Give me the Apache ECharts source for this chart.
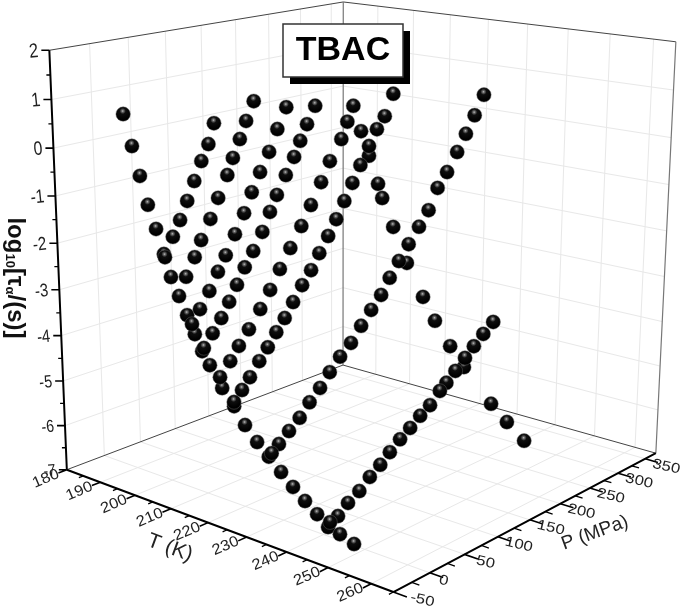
<!DOCTYPE html>
<html>
<head>
<meta charset="utf-8">
<title>TBAC</title>
<style>
  html, body { margin: 0; padding: 0; background: #fff; }
  #main { width: 685px; height: 608px; }
</style>
<script src="https://cdn.jsdelivr.net/npm/echarts@6/dist/echarts.min.js"></script>
</head>
<body>
<div id="main"></div>
<script>
// isobar at ambient pressure
var ambientP = 0.1;
var ambientT = [188.9,191.1,193.1,195.1,197.2,199.2,201.0,203.1,205.2,207.2,209.1,211.1,214.3,217.4,220.2,223.3,226.3,229.4,232.4,235.4,238.4,241.1,244.0,247.4];
var ambientLog = [0.66,0.03,-0.56,-1.13,-1.60,-2.09,-2.54,-2.90,-3.26,-3.62,-3.94,-4.19,-4.60,-4.91,-5.24,-5.52,-5.75,-5.99,-6.22,-6.43,-6.62,-6.81,-6.87,-6.97];

// isobar at high pressure
var highP = 201.5;
var highT = [214.2,216.3,218.7,219.8,222.7,226.3,230.5,233.6,237.5,241.0,247.8,251.7,255.9];
var highLog = [-0.02,-0.52,-1.09,-1.38,-1.96,-2.68,-3.34,-3.80,-4.27,-4.65,-5.29,-5.59,-5.89];

// isotherms
var iso1T = 199.5;
var iso1P = [69,61,51,41,31,21,11,0];
var iso1Log = [0.39,-0.02,-0.34,-0.72,-1.10,-1.46,-1.77,-2.15];
var iso2T = 203.1;
var iso2P = [106,95,86,76,68,55,44,31,22,10];
var iso2Log = [0.78,0.40,0.05,-0.31,-0.64,-1.07,-1.47,-1.86,-2.18,-2.54];
var iso3T = 206.5;
var iso3P = [134,121,109,96,84,73,60,47,36,24,11,0];
var iso3Log = [0.61,0.19,-0.25,-0.63,-1.01,-1.41,-1.80,-2.19,-2.49,-2.84,-3.16,-3.42];
var iso4T = 209.6;
var iso4P = [159,147,137,128,116,103,93,82,69,57,46,35,24,12,0];
var iso4Log = [0.60,0.25,-0.07,-0.38,-0.72,-1.09,-1.41,-1.79,-2.14,-2.43,-2.75,-3.06,-3.35,-3.61,-3.86];
var iso5T = 213.8;
var iso5P = [192,183,174,157,144,129,115,99,84,70,56,40,26,14,0];
var iso5Log = [0.55,0.24,-0.10,-0.51,-0.91,-1.34,-1.73,-2.13,-2.51,-2.89,-3.23,-3.58,-3.86,-4.12,-4.38];
var iso6T = 217.4;
var iso6P = [232,219,207,195,182,170,158,146,134,121,109,96,83,71,59,47,35,22,11,0];
var iso6Log = [0.73,0.29,0.05,-0.27,-0.63,-0.97,-1.31,-1.65,-1.96,-2.27,-2.58,-2.84,-3.14,-3.42,-3.66,-3.92,-4.15,-4.42,-4.63,-4.82];
var iso7T = 226.3;
var iso7P = [323,308,294,280,264,249,235,220,204,189,175,162,147,132,117,101,86,72,57,43,28,14,4];
var iso7Log = [0.54,0.14,-0.22,-0.57,-0.95,-1.24,-1.67,-1.97,-2.28,-2.58,-2.88,-3.19,-3.44,-3.71,-4.00,-4.21,-4.46,-4.72,-4.94,-5.19,-5.38,-5.57,-5.70];
var iso8T = 241.6;
var iso8P = [244,228,213,199,184,170,160,145,130,115,100,85,71,56,41,25,11,0];
var iso8Log = [-3.87,-4.05,-4.24,-4.42,-4.62,-4.80,-4.92,-5.14,-5.28,-5.45,-5.60,-5.78,-5.96,-6.12,-6.32,-6.46,-6.64,-6.69];

// axis ticks
var tempTicks = [180,190,200,210,220,230,240,250,260];
var pressTicks = [-50,0,50,100,150,200,250,300,350];
var logTicks = [2,1,0,-1,-2,-3,-4,-5,-6,-7];

// box limits
var Tmin = 180, Tmax = 265, Pmin = -50, Pmax = 370, Lmin = -7, Lmax = 2;

// perspective camera of the 3D box (box fractions -> pixels)
var camX = [66.840,270.507,332.179,-20.486];
var camY = [469.733,37.979,-45.072,-422.507];
var camW = [1,-0.142402,0.163272,-0.060540];

function project(T, P, L) {
  var u = (T - Tmin) / (Tmax - Tmin);
  var v = (P - Pmin) / (Pmax - Pmin);
  var w = (L - Lmin) / (Lmax - Lmin);
  var q = camW[0] + camW[1] * u + camW[2] * v + camW[3] * w;
  return [
    (camX[0] + camX[1] * u + camX[2] * v + camX[3] * w) / q,
    (camY[0] + camY[1] * u + camY[2] * v + camY[3] * w) / q
  ];
}

// segments: list of [a, b] pixel pairs turned into one broken line
function brokenLine(segments) {
  var out = [];
  segments.forEach(function (s) {
    out.push(s[0], s[1], [NaN, NaN]);
  });
  return out;
}

function range(from, to, step) {
  var out = [];
  for (var i = from; i <= to + 1e-6; i += step) out.push(i);
  return out;
}

function lineSeries(segments, color, width, z) {
  return {
    type: 'line',
    data: brokenLine(segments),
    showSymbol: false,
    silent: true,
    connectNulls: false,
    z: z,
    lineStyle: { color: color, width: width }
  };
}

var gridSegs = [];
tempTicks.slice(1).forEach(function (t) {
  gridSegs.push([project(t, Pmin, Lmin), project(t, Pmax, Lmin)]);
  gridSegs.push([project(t, Pmax, Lmin), project(t, Pmax, Lmax)]);
});
pressTicks.slice(1).forEach(function (p) {
  gridSegs.push([project(Tmin, p, Lmin), project(Tmax, p, Lmin)]);
  gridSegs.push([project(Tmin, p, Lmin), project(Tmin, p, Lmax)]);
});
logTicks.slice(1, -1).forEach(function (l) {
  gridSegs.push([project(Tmin, Pmin, l), project(Tmin, Pmax, l)]);
  gridSegs.push([project(Tmin, Pmax, l), project(Tmax, Pmax, l)]);
});

var LB = project(Tmin, Pmin, Lmin), LT = project(Tmin, Pmin, Lmax);
var FB = project(Tmax, Pmin, Lmin);
var RB = project(Tmax, Pmax, Lmin), RT = project(Tmax, Pmax, Lmax);
var BB = project(Tmin, Pmax, Lmin), BT = project(Tmin, Pmax, Lmax);

// ticks
var majorTicks = [], minorTicks = [];
range(180, 265, 5).forEach(function (t) {
  var major = t % 10 === 0;
  (major ? majorTicks : minorTicks).push([project(t, Pmin, Lmin), project(t, Pmin - (major ? 11 : 6), Lmin)]);
});
range(-50, 350, 25).forEach(function (p) {
  var major = p % 50 === 0;
  (major ? majorTicks : minorTicks).push([project(Tmax, p, Lmin), project(Tmax + (major ? 3 : 1.7), p, Lmin)]);
});
range(-7, 2, 0.5).forEach(function (l) {
  var major = l % 1 === 0;
  var a = project(Tmin, Pmin, l);
  (major ? majorTicks : minorTicks).push([a, [a[0] - (major ? 8 : 4), a[1]]]);
});

// tick labels: [x, y, text, rotationDeg, fontSize, scaleX, align]
var labelRows = [];
tempTicks.forEach(function (t) {
  var a = project(t, Pmin, Lmin);
  labelRows.push([a[0] - 21, a[1] + 9, String(t), 23, 15, 1.1, 'center']);
});
pressTicks.forEach(function (p) {
  var a = project(Tmax, p, Lmin);
  var shift = p === -50 ? 29 : (p === 0 ? 14 : 21);
  labelRows.push([a[0] + shift, a[1] + 8, String(p), -13, 14, 1.2, 'center']);
});
logTicks.forEach(function (l) {
  var a = project(Tmin, Pmin, l);
  labelRows.push([a[0] - 11, a[1] + 1, String(l), 6, 20 - (2 - l) / 3, 0.82, 'right']);
});

function renderLabel(params, api) {
  var row = labelRows[params.dataIndex];
  return {
    type: 'text',
    x: row[0],
    y: row[1],
    rotation: row[3] * Math.PI / 180,
    scaleX: row[5],
    style: {
      text: row[2],
      fill: '#222',
      font: row[4] + 'px "Liberation Sans", Arial, sans-serif',
      align: row[6],
      verticalAlign: 'middle'
    }
  };
}

// all the spheres
function addIsobar(list, P, Ts, logs) {
  Ts.forEach(function (t, i) { list.push(project(t, P, logs[i])); });
}
function addIsotherm(list, T, Ps, logs) {
  Ps.forEach(function (p, i) { list.push(project(T, p, logs[i])); });
}
var spheres = [];
addIsobar(spheres, ambientP, ambientT, ambientLog);
addIsobar(spheres, highP, highT, highLog);
addIsotherm(spheres, iso1T, iso1P, iso1Log);
addIsotherm(spheres, iso2T, iso2P, iso2Log);
addIsotherm(spheres, iso3T, iso3P, iso3Log);
addIsotherm(spheres, iso4T, iso4P, iso4Log);
addIsotherm(spheres, iso5T, iso5P, iso5Log);
addIsotherm(spheres, iso6T, iso6P, iso6Log);
addIsotherm(spheres, iso7T, iso7P, iso7Log);
addIsotherm(spheres, iso8T, iso8P, iso8Log);

var sphereFill = {
  type: 'radial', x: 0.47, y: 0.3, r: 0.55,
  colorStops: [
    { offset: 0, color: '#c4c4c4' },
    { offset: 0.12, color: '#707070' },
    { offset: 0.36, color: '#0e0e0e' },
    { offset: 1, color: '#000' }
  ]
};

var option = {
  animation: false,
  backgroundColor: '#fff',
  grid: { left: 0, right: 0, top: 0, bottom: 0 },
  xAxis: { type: 'value', min: 0, max: 685, show: false },
  yAxis: { type: 'value', min: 0, max: 608, inverse: true, show: false },
  series: [
    lineSeries(gridSegs, '#e8e8e8', 1, 1),
    lineSeries([[LT, BT], [BT, RT], [LB, BB], [BB, RB]], '#444', 1, 2),
    lineSeries([[BB, BT], [RB, RT]], '#777', 1.2, 2),
    lineSeries([[LB, LT], [LB, FB], [FB, RB]], '#000', 2, 3),
    lineSeries(majorTicks, '#000', 1.6, 3),
    lineSeries(minorTicks, '#000', 1.3, 3),
    {
      type: 'custom',
      data: labelRows.map(function (r) { return [r[0], r[1]]; }),
      renderItem: renderLabel,
      silent: true,
      z: 4
    },
    {
      name: 'TBAC',
      type: 'scatter',
      data: spheres,
      symbolSize: 14.5,
      z: 5,
      silent: true,
      itemStyle: { color: sphereFill, borderColor: 'rgba(110,110,110,0.55)', borderWidth: 0.8, opacity: 1 }
    }
  ],
  graphic: [
    { type: 'rect', z: 10, shape: { x: 290, y: 31, width: 120, height: 53 }, style: { fill: '#000' } },
    { type: 'rect', z: 11, shape: { x: 283, y: 24, width: 120, height: 53 }, style: { fill: '#fff', stroke: '#333', lineWidth: 1.5 } },
    { type: 'text', z: 12, x: 343, y: 51, style: { text: 'TBAC', fill: '#000', font: 'bold 34px "Liberation Sans", Arial, sans-serif', align: 'center', verticalAlign: 'middle' } },
    {
      type: 'text', z: 12, x: 15, y: 278, rotation: -Math.PI / 2,
      style: {
        text: '{a|log}{s|10}{a|[τ}{s|α}{a|/(s)]}',
        align: 'center', verticalAlign: 'middle',
        rich: {
          a: { font: 'bold 24px "Liberation Sans", Arial, sans-serif', fill: '#111' },
          s: { font: 'bold 13px "Liberation Sans", Arial, sans-serif', fill: '#111', verticalAlign: 'bottom', padding: [10, 0, 0, 0] }
        }
      }
    },
    { type: 'text', z: 12, x: 170, y: 548, rotation: -20 * Math.PI / 180, style: { text: 'T (K)', fill: '#222', font: '21px "Liberation Sans", Arial, sans-serif', align: 'center', verticalAlign: 'middle' } },
    { type: 'text', z: 12, x: 595, y: 533, rotation: 20 * Math.PI / 180, style: { text: 'P (MPa)', fill: '#222', font: '19px "Liberation Sans", Arial, sans-serif', align: 'center', verticalAlign: 'middle' } }
  ]
};

var chart = echarts.init(document.getElementById('main'), null, { renderer: 'canvas' });
chart.setOption(option);
</script>
</body>
</html>
